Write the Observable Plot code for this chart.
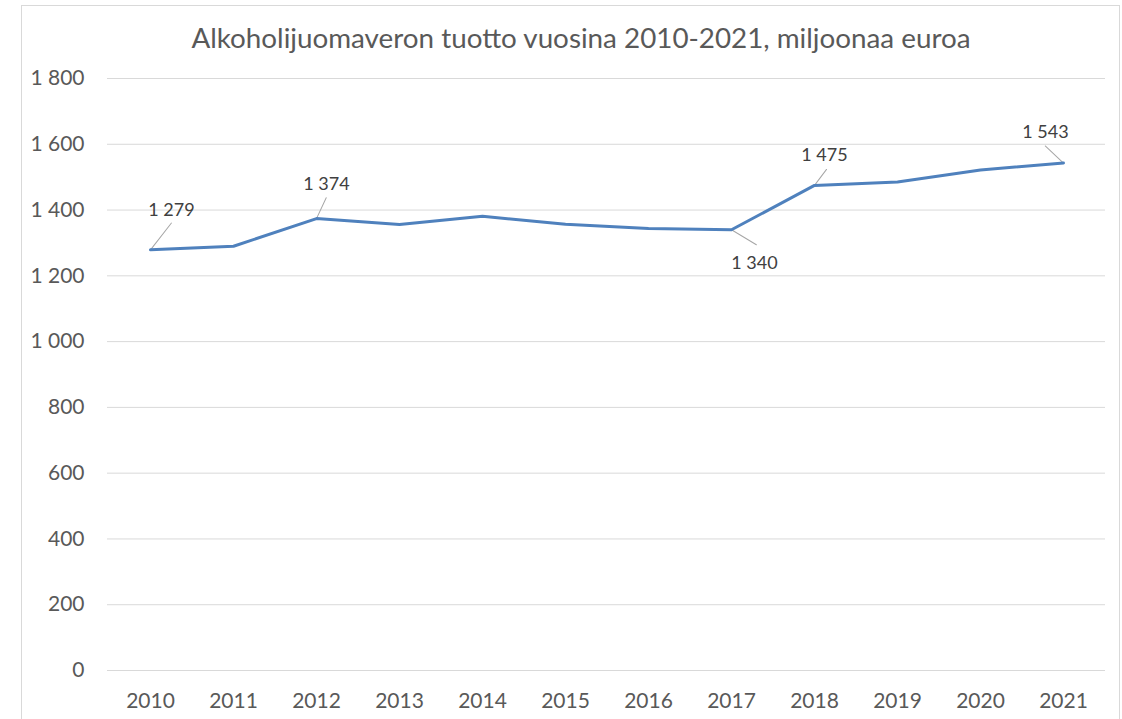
<!DOCTYPE html>
<html>
<head>
<meta charset="utf-8">
<script src="https://cdn.jsdelivr.net/npm/d3@7"></script>
<script src="https://cdn.jsdelivr.net/npm/@observablehq/plot@0.6"></script>
<style>
  body { margin: 0; background: #fff; font-family: Lato, "Open Sans", sans-serif; }
  #wrap { position: relative; width: 1122px; height: 719px; overflow: hidden; background: #fff; }
  #border { position: absolute; left: 21px; top: 5px; width: 1099px; height: 730px; border: 1px solid #d9d9d9; box-sizing: border-box; }
  #title { position: absolute; left: 20px; top: 0; width: 1122px; height: 60px; text-align: center; padding-top: 23px; box-sizing: border-box; line-height: 30px; font-size: 27.8px; color: #595959; font-family: Lato, sans-serif; }
  #chart { position: absolute; left: 0; top: 60px; }
</style>
</head>
<body>
<div id="wrap">
  <div id="border"></div>
  <div id="title">Alkoholijuomaveron tuotto vuosina 2010-2021, miljoonaa euroa</div>
  <div id="chart"></div>
</div>
<script>
const years = ["2010","2011","2012","2013","2014","2015","2016","2017","2018","2019","2020","2021"];
const revenue = [1279, 1290, 1374, 1356, 1381, 1357, 1344, 1340, 1475, 1485, 1522, 1543];
const yTicks = [0, 200, 400, 600, 800, 1000, 1200, 1400, 1600, 1800];
const labelledYears = ["2010", "2012", "2017", "2018", "2021"];

// label placement (pixel offsets from the point) and leader geometry
const labelStyle = {
  "2010": {dx: 21, dy: -40, len: 34, rot: 38},
  "2012": {dx: 10, dy: -34, len: 23, rot: 25},
  "2017": {dx: 23, dy: 33, len: 29, rot: 121},
  "2018": {dx: 10, dy: -30, len: 20, rot: 37},
  "2021": {dx: -18, dy: -31, len: 25, rot: -47}
};

const fmt = v => d3.format(",")(v).replace(/,/g, " ");
const data = years.map((y, i) => ({year: y, value: revenue[i]}));
const labelled = data.filter(d => labelledYears.includes(d.year));

const lineShape = {draw(context, l) { context.moveTo(0, 0); context.lineTo(0, -l); }};

const marks = [
  Plot.gridY(yTicks, {stroke: "#d9d9d9", strokeOpacity: 1, strokeWidth: 1}),
  Plot.axisY(yTicks, {tickSize: 0, tickPadding: 23, tickFormat: fmt, fontSize: 21, fill: "#595959", label: null}),
  Plot.axisX({tickSize: 0, tickPadding: 23, fontSize: 21, fill: "#595959", label: null}),
  Plot.vector(labelled, {
    x: "year", y: "value",
    length: d => labelStyle[d.year].len,
    rotate: d => labelStyle[d.year].rot,
    anchor: "start", shape: lineShape,
    stroke: "#a6a6a6", strokeWidth: 1
  }),
  Plot.line(data, {x: "year", y: "value", stroke: "#4f81bd", strokeWidth: 3}),
  ...labelled.map(d => Plot.text([d], {
    x: "year", y: "value", text: v => fmt(v.value),
    dx: labelStyle[d.year].dx, dy: labelStyle[d.year].dy,
    fontSize: 18, fill: "#404040"
  }))
];

const chart = Plot.plot({
  width: 1122,
  height: 659,
  marginLeft: 107,
  marginRight: 17,
  marginTop: 18,
  marginBottom: 49,
  style: {fontFamily: "Lato, sans-serif", background: "transparent", overflow: "visible"},
  x: {type: "point", domain: years, padding: 0.5, label: null},
  y: {domain: [0, 1800], label: null},
  length: {type: "identity"},
  marks
});
document.getElementById("chart").appendChild(chart);
</script>
</body>
</html>
